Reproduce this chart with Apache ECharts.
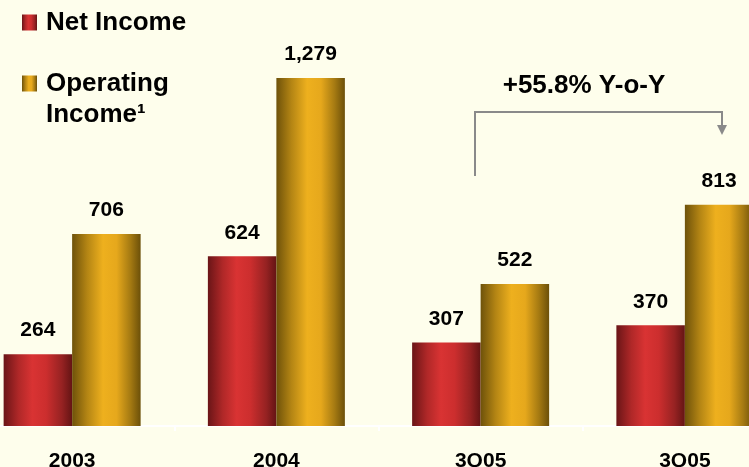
<!DOCTYPE html>
<html>
<head>
<meta charset="utf-8">
<script src="https://cdn.jsdelivr.net/npm/echarts@6/dist/echarts.min.js"></script>
<style>
  html, body { margin: 0; padding: 0; background: #FEFEEC; }
  #chart { width: 749px; height: 467px; }
</style>
</head>
<body>
<div id="chart"></div>
<script>
// Periods shown on the x axis
const categories = ['2003', '2004', '3Q05', '3Q05'];
// Net income per period
const netIncome = [264, 624, 307, 370];
// Operating income per period
const operatingIncome = [706, 1279, 522, 813];
// Growth note above the two quarterly groups
const growthNote = '+55.8% Y-o-Y';

const FONT = "'Liberation Sans', Arial, Helvetica, sans-serif";

// Cylinder-like horizontal shading for each series
const redFill = {
  type: 'linear', x: 0, y: 0, x2: 1, y2: 0,
  colorStops: [
    { offset: 0, color: '#6A1517' },
    { offset: 0.22, color: '#B02828' },
    { offset: 0.42, color: '#D93333' },
    { offset: 0.62, color: '#CC2E2E' },
    { offset: 0.85, color: '#962222' },
    { offset: 1, color: '#641414' }
  ]
};
const goldFill = {
  type: 'linear', x: 0, y: 0, x2: 1, y2: 0,
  colorStops: [
    { offset: 0, color: '#6E520A' },
    { offset: 0.22, color: '#B48514' },
    { offset: 0.45, color: '#EEB01E' },
    { offset: 0.65, color: '#E6A81C' },
    { offset: 0.85, color: '#A57A12' },
    { offset: 1, color: '#6C5009' }
  ]
};

const valueLabel = {
  show: true,
  position: 'top',
  distance: 13,
  color: '#000',
  fontFamily: FONT,
  fontWeight: 'bold',
  fontSize: 21,
  formatter: p => p.value.toLocaleString('en-US')
};

// legend text with a small spacer token after the swatch
const legendText = {
  color: '#000', fontFamily: FONT, fontWeight: 'bold', fontSize: 26, lineHeight: 31,
  rich: {
    g: { width: 4, lineHeight: 31 },
    t: { color: '#000', fontFamily: FONT, fontWeight: 'bold', fontSize: 26, lineHeight: 31 }
  }
};

const chart = echarts.init(document.getElementById('chart'));
chart.setOption({
  backgroundColor: '#FEFEEC',
  animation: false,
  grid: { left: -30, right: -38, top: 18, bottom: 41, outerBoundsMode: 'none', containLabel: false },
  legend: [
    {
      data: ['Net Income'],
      left: 22, top: 7, padding: 0,
      icon: 'rect', itemWidth: 15, itemHeight: 16,
      formatter: n => '{g|}{t|' + n + '}',
      textStyle: legendText
    },
    {
      data: ['Operating Income¹'],
      left: 22, top: 37, padding: 0,
      icon: 'rect', itemWidth: 15, itemHeight: 16,
      // blank first line keeps the swatch level with "Operating"
      formatter: () => '{g|}{t|\u00a0}\n{g|}{t|Operating}\n{g|}{t|Income¹}',
      textStyle: legendText
    }
  ],
  xAxis: {
    type: 'category',
    data: categories,
    axisLine: { show: true, lineStyle: { color: '#FFFFFF', width: 2 } },
    axisTick: { show: true, alignWithLabel: false, length: 5, lineStyle: { color: '#FFFFFF', width: 2 } },
    axisLabel: { color: '#000', fontFamily: FONT, fontWeight: 'bold', fontSize: 21, margin: 25 }
  },
  yAxis: {
    type: 'value', min: 0, max: 1500,
    show: false,
    splitLine: { show: false }
  },
  series: [
    {
      name: 'Net Income', type: 'bar', data: netIncome,
      barWidth: 68.5, barGap: '0%',
      itemStyle: { color: redFill },
      label: valueLabel
    },
    {
      name: 'Operating Income¹', type: 'bar', data: operatingIncome,
      barWidth: 68.5, barGap: '0%',
      itemStyle: { color: goldFill },
      label: valueLabel
    }
  ],
  graphic: [
    {
      type: 'text',
      style: {
        text: growthNote, x: 584, y: 86, align: 'center', verticalAlign: 'middle',
        fill: '#000', font: "bold 26px " + FONT
      }
    },
    {
      type: 'polyline',
      shape: { points: [[475, 176], [475, 112], [722, 112], [722, 126]] },
      style: { stroke: '#8A8A8A', lineWidth: 2, fill: null }
    },
    {
      type: 'polygon',
      shape: { points: [[717, 125], [727, 125], [722, 135]] },
      style: { fill: '#8A8A8A' }
    }
  ]
});
</script>
</body>
</html>
